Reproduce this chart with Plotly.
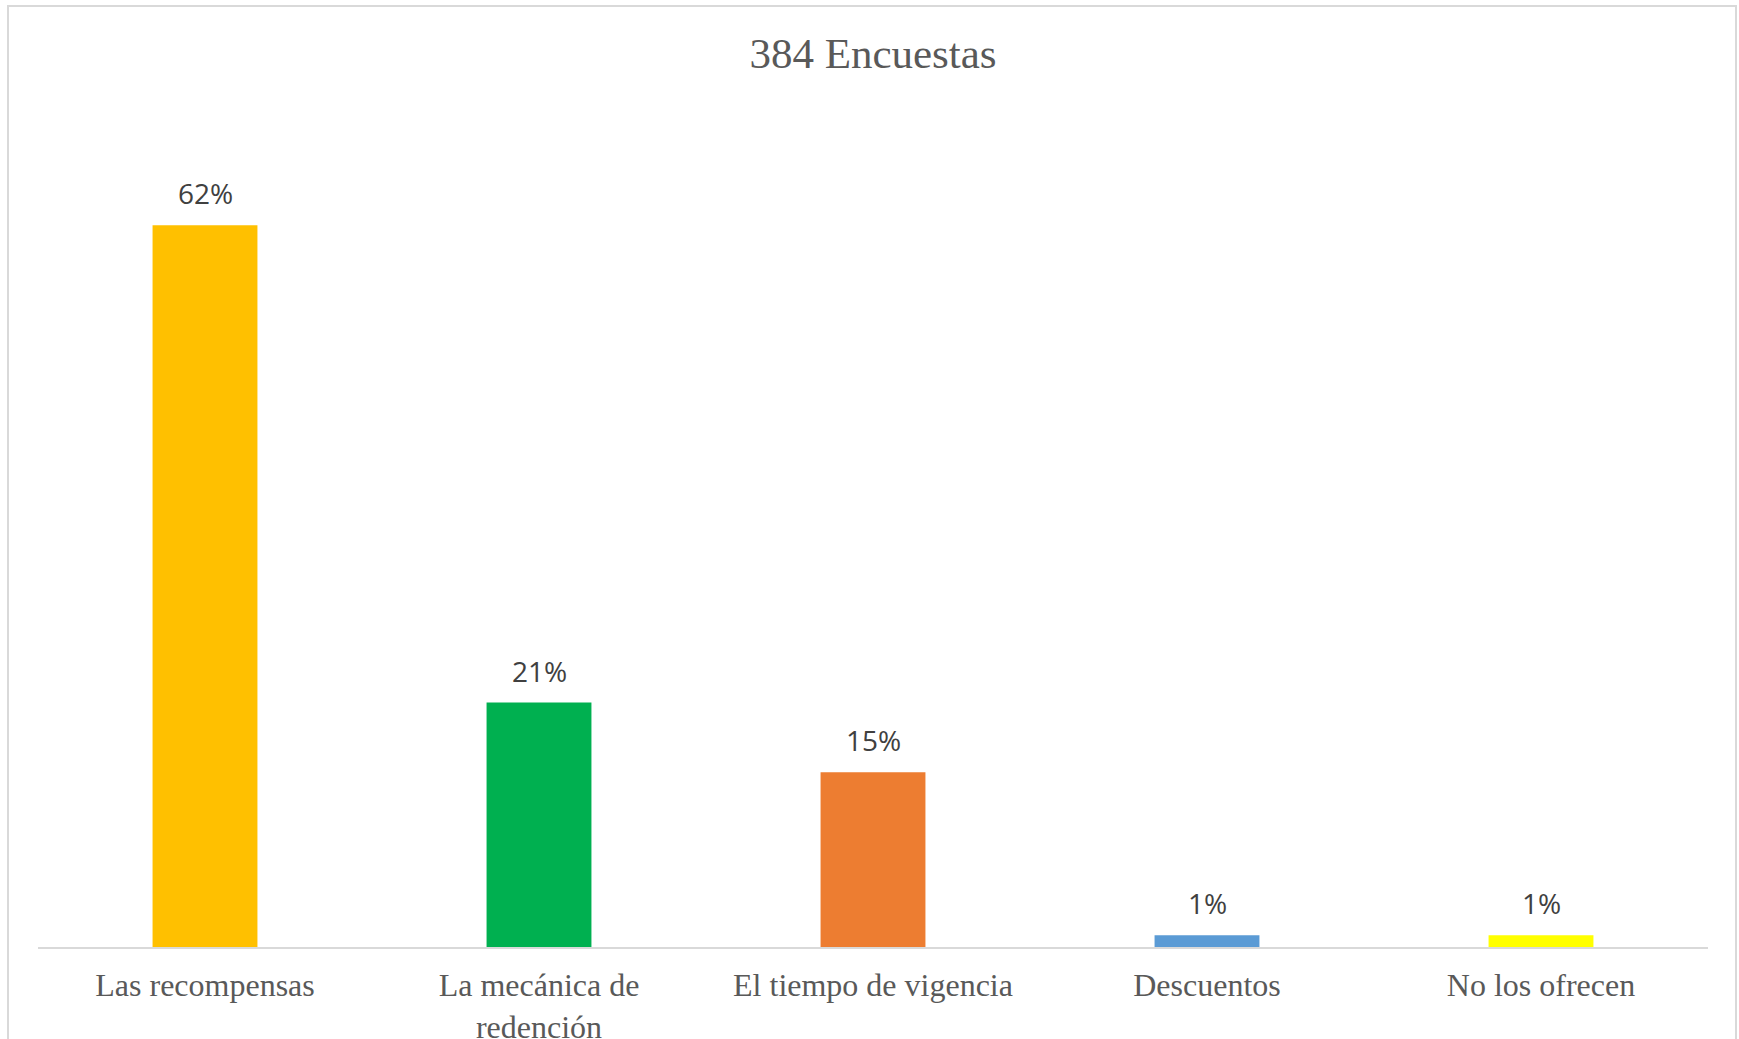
import plotly.graph_objects as go

# Survey results (share of 384 responses)
categories = ["Las recompensas", "La mecánica de<br>redención", "El tiempo de vigencia",
              "Descuentos", "No los ofrecen"]
values = [62, 21, 15, 1, 1]
bar_colors = ["#FFC000", "#00B050", "#ED7D31", "#5B9BD5", "#FFFF00"]
title_text = "384 Encuestas"

W, H = 1739, 1039
L, R, T, B = 38, 31, 132, 92
plot_w = W - L - R
plot_h = H - T - B

fig = go.Figure()
fig.add_trace(go.Bar(
    x=categories,
    y=values,
    marker=dict(color=bar_colors, line=dict(width=0)),
    hoverinfo="skip",
))

# value labels above each bar
for c, v in zip(categories, values):
    fig.add_annotation(
        x=c, y=v, text=f"{v}%", showarrow=False,
        yanchor="bottom", yshift=11,
        font=dict(family="Open Sans", size=28, color="#404040"),
    )

# light chart-area frame
def px_x(p):
    return (p - L) / plot_w

def px_y(p):
    return (H - B - p) / plot_h

fig.add_shape(
    type="rect", xref="paper", yref="paper",
    x0=px_x(8), x1=px_x(1736), y0=px_y(1050), y1=px_y(6),
    line=dict(color="#D9D9D9", width=2), fillcolor="rgba(0,0,0,0)",
    layer="below",
)

fig.update_layout(
    width=W, height=H,
    margin=dict(l=L, r=R, t=T, b=B, pad=0, autoexpand=False),
    paper_bgcolor="white",
    plot_bgcolor="white",
    showlegend=False,
    bargap=0.686,
    title=dict(
        text=title_text, x=0.5, xref="paper", xanchor="center",
        y=1 - 53 / H, yref="container", yanchor="middle",
        font=dict(family="Liberation Serif", size=43, color="#595959"),
    ),
    xaxis=dict(
        showline=True, linecolor="#D9D9D9", linewidth=2,
        showgrid=False, zeroline=False, automargin=False,
        ticks="", ticklabelstandoff=9,
        tickfont=dict(family="Liberation Serif", size=32, color="#595959"),
    ),
    yaxis=dict(
        range=[0, 70], visible=False, showgrid=False, zeroline=False,
        automargin=False,
    ),
)

fig.write_html("out.html")
